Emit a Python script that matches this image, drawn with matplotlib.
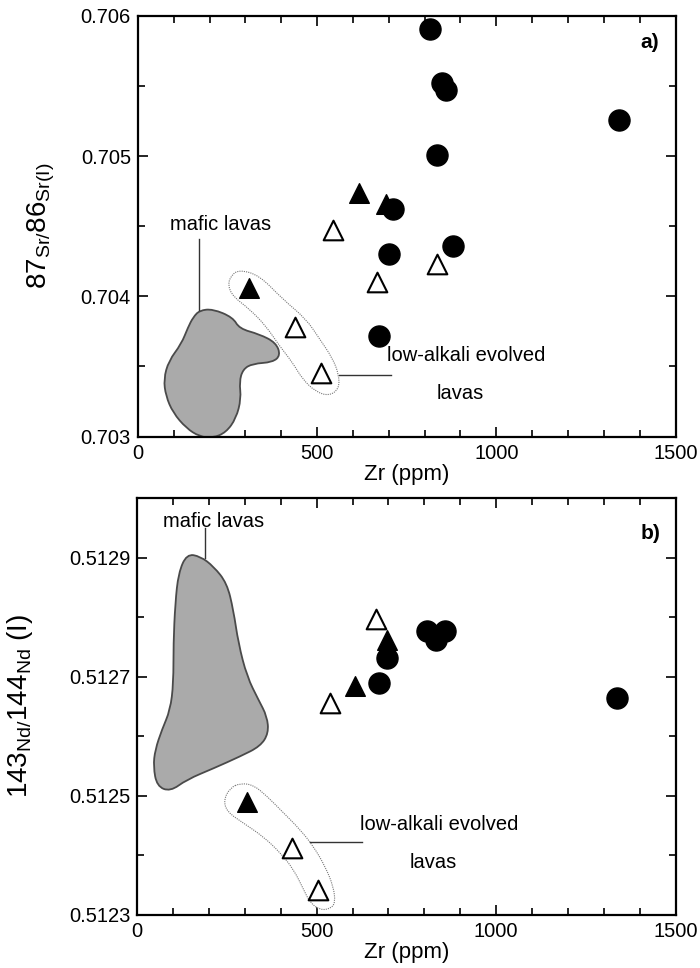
"""Sr and Nd isotope ratios versus Zr, two stacked panels."""

import matplotlib
matplotlib.use("Agg")
import matplotlib.pyplot as plt
from matplotlib.path import Path
from matplotlib.patches import PathPatch
from matplotlib.ticker import MultipleLocator, FixedFormatter, FixedLocator

plt.rcParams["font.family"] = ["Liberation Sans", "DejaVu Sans"]
plt.rcParams["mathtext.fontset"] = "custom"
plt.rcParams["mathtext.rm"] = "Liberation Sans"
plt.rcParams["mathtext.it"] = "Liberation Sans"
plt.rcParams["mathtext.sf"] = "Liberation Sans"

# ---- panel a) 87Sr/86Sr(I) vs Zr ----
sr_circ_zr = [816, 848, 859, 1341, 835, 712, 700, 880, 672]
sr_circ = [0.70591, 0.70552, 0.70547, 0.70526, 0.70501, 0.70462, 0.70430, 0.70436, 0.70372]
sr_ftri_zr = [617, 691, 311]
sr_ftri = [0.70474, 0.70466, 0.70406]
sr_otri_zr = [668, 834, 545, 439, 511]
sr_otri = [0.70410, 0.70423, 0.70447, 0.70378, 0.70345]

sr_mafic_zr = [172, 209, 265, 283, 339, 385, 398, 376, 320, 293, 283, 288, 274,
               246, 209, 172, 135, 98, 78, 72, 86, 121, 140, 154]
sr_mafic = [0.70390, 0.70391, 0.70385, 0.70377, 0.70373, 0.70367, 0.70358, 0.70353,
            0.70352, 0.70348, 0.70339, 0.70327, 0.70313, 0.70303, 0.70299, 0.70300,
            0.70306, 0.70317, 0.70329, 0.70341, 0.70354, 0.70366, 0.70378, 0.70385]
sr_lowalk_zr = [283, 339, 404, 469, 506, 543, 561, 561, 533, 496, 459, 431, 394,
                357, 311, 265, 251, 260]
sr_lowalk = [0.70419, 0.70415, 0.70398, 0.70384, 0.70370, 0.70356, 0.70344, 0.70334,
             0.70329, 0.70332, 0.70341, 0.70353, 0.70365, 0.70379, 0.70391, 0.70400,
             0.70408, 0.70415]

# ---- panel b) 143Nd/144Nd(I) vs Zr ----
nd_circ_zr = [808, 834, 859, 696, 673, 1337]
nd_circ = [0.512776, 0.512762, 0.512776, 0.512731, 0.512690, 0.512664]
nd_ftri_zr = [696, 608, 306]
nd_ftri = [0.512762, 0.512684, 0.512490]
nd_otri_zr = [666, 538, 431, 505]
nd_otri = [0.512796, 0.512655, 0.512412, 0.512342]

nd_mafic_zr = [138, 176, 213, 250, 268, 282, 306, 338, 362, 366, 343, 287, 213,
               138, 92, 55, 45, 50, 69, 92, 101, 101, 106, 115]
nd_mafic = [0.512906, 0.512902, 0.512885, 0.512857, 0.512812, 0.512756, 0.512700,
            0.512661, 0.512633, 0.512605, 0.512583, 0.512566, 0.512546, 0.512527,
            0.512507, 0.512516, 0.512549, 0.512577, 0.512611, 0.512644, 0.512689,
            0.512756, 0.512823, 0.512874]
nd_lowalk_zr = [287, 324, 362, 408, 454, 491, 524, 547, 552, 538, 510, 482, 464,
                436, 399, 352, 296, 250, 241, 259]
nd_lowalk = [0.512521, 0.512518, 0.512499, 0.512471, 0.512443, 0.512415, 0.512381,
             0.512347, 0.512320, 0.512310, 0.512308, 0.512320, 0.512342, 0.512376,
             0.512404, 0.512431, 0.512454, 0.512473, 0.512493, 0.512513]


def smooth_patch(xs, ys, **kw):
    # closed quadratic bezier: outline points act as control points
    n = len(xs)
    mids = [((xs[i] + xs[(i + 1) % n]) / 2, (ys[i] + ys[(i + 1) % n]) / 2) for i in range(n)]
    verts = [mids[-1]]
    codes = [Path.MOVETO]
    for i in range(n):
        verts += [(xs[i], ys[i]), mids[i]]
        codes += [Path.CURVE3, Path.CURVE3]
    return PathPatch(Path(verts, codes), **kw)


def style_axis(ax):
    ax.set_xlim(0, 1500)
    ax.xaxis.set_major_locator(MultipleLocator(500))
    ax.xaxis.set_minor_locator(MultipleLocator(100))
    ax.tick_params(which="both", direction="in", top=True, right=True, width=1.2)
    ax.tick_params(which="major", length=7, labelsize=14.5, pad=5)
    ax.tick_params(which="minor", length=5)
    for s in ax.spines.values():
        s.set_linewidth(1.6)


def draw_points(ax, cz, cy, fz, fy, oz, oy):
    ax.scatter(cz, cy, s=230, marker="o", color="black", zorder=4)
    ax.scatter(fz, fy, s=200, marker="^", color="black", zorder=4)
    ax.scatter(oz, oy, s=200, marker="^", facecolor="white", edgecolor="black",
               linewidth=1.5, zorder=4)


fig = plt.figure(figsize=(7, 9.68), dpi=100)

# panel a
ax1 = fig.add_axes([0.197, 0.549, 0.768, 0.4345])
style_axis(ax1)
ax1.set_ylim(0.703, 0.706)
ax1.yaxis.set_major_locator(FixedLocator([0.703, 0.704, 0.705, 0.706]))
ax1.yaxis.set_major_formatter(FixedFormatter(["0.703", "0.704", "0.705", "0.706"]))
ax1.yaxis.set_minor_locator(MultipleLocator(0.0005))
ax1.add_patch(smooth_patch(sr_mafic_zr, sr_mafic, facecolor="#aaaaaa", edgecolor="#4a4a4a",
                           linewidth=1.3, zorder=2))
ax1.add_patch(smooth_patch(sr_lowalk_zr, sr_lowalk, facecolor="white", edgecolor="#777777",
                           linewidth=0.8, linestyle=(0, (1, 1)), zorder=2))
draw_points(ax1, sr_circ_zr, sr_circ, sr_ftri_zr, sr_ftri, sr_otri_zr, sr_otri)
ax1.text(89, 0.704515, "mafic lavas", fontsize=14.5, va="center", ha="left")
ax1.plot([170, 170], [0.70441, 0.70390], color="#333333", lw=1)
ax1.plot([561, 705], [0.70344, 0.70344], color="#333333", lw=1)
ax1.text(694, 0.703578, "low-alkali evolved", fontsize=14.5, va="center", ha="left")
ax1.text(899, 0.70331, "lavas", fontsize=14.5, va="center", ha="center")
ax1.text(1427, 0.70581, "a)", fontsize=15, fontweight="bold", va="center", ha="center")
ax1.set_xlabel("Zr (ppm)", fontsize=16, labelpad=1)
ax1.set_ylabel(r"$\mathrm{87_{Sr/}86_{Sr(I)}}$", fontsize=20)
ax1.yaxis.set_label_coords(-0.15, 0.5)

# panel b
ax2 = fig.add_axes([0.196, 0.055, 0.769, 0.4305])
style_axis(ax2)
ax2.set_ylim(0.5123, 0.5130)
ax2.yaxis.set_major_locator(FixedLocator([0.5123, 0.5125, 0.5127, 0.5129]))
ax2.yaxis.set_major_formatter(FixedFormatter(["0.5123", "0.5125", "0.5127", "0.5129"]))
ax2.yaxis.set_minor_locator(MultipleLocator(0.0001))
ax2.add_patch(smooth_patch(nd_mafic_zr, nd_mafic, facecolor="#aaaaaa", edgecolor="#4a4a4a",
                           linewidth=1.3, zorder=2))
ax2.add_patch(smooth_patch(nd_lowalk_zr, nd_lowalk, facecolor="white", edgecolor="#777777",
                           linewidth=0.8, linestyle=(0, (1, 1)), zorder=2))
draw_points(ax2, nd_circ_zr, nd_circ, nd_ftri_zr, nd_ftri, nd_otri_zr, nd_otri)
ax2.text(72, 0.512960, "mafic lavas", fontsize=14.5, va="center", ha="left")
ax2.plot([190, 190], [0.51295, 0.51290], color="#333333", lw=1)
ax2.plot([482, 626], [0.512423, 0.512423], color="#333333", lw=1)
ax2.text(622, 0.512451, "low-alkali evolved", fontsize=14.5, va="center", ha="left")
ax2.text(825, 0.512387, "lavas", fontsize=14.5, va="center", ha="center")
ax2.text(1430, 0.512941, "b)", fontsize=15, fontweight="bold", va="center", ha="center")
ax2.set_xlabel("Zr (ppm)", fontsize=16, labelpad=1)
ax2.set_ylabel(r"$\mathrm{143_{Nd/}144_{Nd}\ (I)}$", fontsize=20)
ax2.yaxis.set_label_coords(-0.19, 0.5)

fig.savefig("out.png", dpi=100)
